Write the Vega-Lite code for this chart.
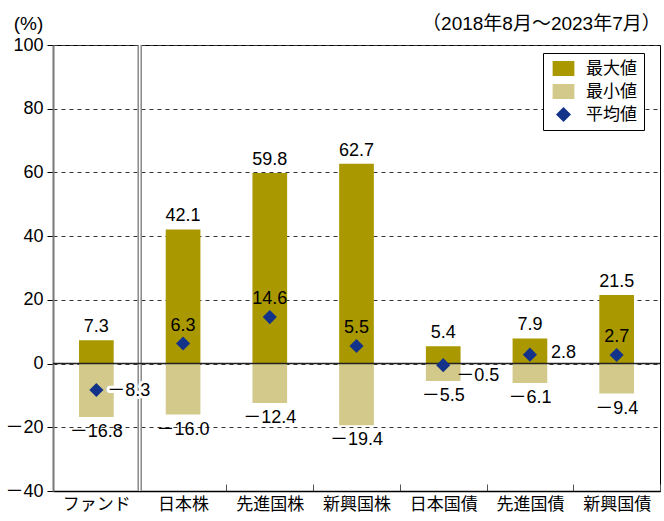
{
  "$schema": "https://vega.github.io/schema/vega-lite/v6.json",
  "width": 607,
  "height": 446,
  "autosize": "none",
  "padding": {"left": 53, "top": 45, "right": 4, "bottom": 30},
  "background": "white",
  "config": {
    "view": {"stroke": "#000", "strokeWidth": 1},
    "font": "Liberation Sans, Noto Sans CJK JP",
    "legend": {
      "orient": "none",
      "legendX": 490,
      "legendY": 8,
      "padding": 7,
      "strokeColor": "#000",
      "fillColor": "#fff",
      "labelFont": "Noto Sans CJK JP",
      "labelFontSize": 17,
      "labelColor": "#000",
      "symbolSize": 225,
      "symbolStrokeWidth": 0,
      "symbolOffset": 5,
      "labelOffset": 14,
      "rowPadding": 5
    }
  },
  "title": {
    "text": "（2018年8月～2023年7月）",
    "anchor": "end",
    "font": "Liberation Sans, Noto Sans CJK JP",
    "fontSize": 19,
    "fontWeight": "normal",
    "color": "#000",
    "offset": 11,
    "dy": 31
  },
  "data": {
    "values": [
      {"cat": "ファンド", "type": "最大値", "value": 7.3},
      {"cat": "ファンド", "type": "最小値", "value": -16.8},
      {"cat": "ファンド", "type": "平均値", "value": -8.3},
      {"cat": "日本株", "type": "最大値", "value": 42.1},
      {"cat": "日本株", "type": "最小値", "value": -16.0},
      {"cat": "日本株", "type": "平均値", "value": 6.3},
      {"cat": "先進国株", "type": "最大値", "value": 59.8},
      {"cat": "先進国株", "type": "最小値", "value": -12.4},
      {"cat": "先進国株", "type": "平均値", "value": 14.6},
      {"cat": "新興国株", "type": "最大値", "value": 62.7},
      {"cat": "新興国株", "type": "最小値", "value": -19.4},
      {"cat": "新興国株", "type": "平均値", "value": 5.5},
      {"cat": "日本国債", "type": "最大値", "value": 5.4},
      {"cat": "日本国債", "type": "最小値", "value": -5.5},
      {"cat": "日本国債", "type": "平均値", "value": -0.5},
      {"cat": "先進国債", "type": "最大値", "value": 7.9},
      {"cat": "先進国債", "type": "最小値", "value": -6.1},
      {"cat": "先進国債", "type": "平均値", "value": 2.8},
      {"cat": "新興国債", "type": "最大値", "value": 21.5},
      {"cat": "新興国債", "type": "最小値", "value": -9.4},
      {"cat": "新興国債", "type": "平均値", "value": 2.7}
    ]
  },
  "layer": [
    {
      "transform": [{"filter": "datum.type !== '平均値'"}],
      "mark": {"type": "bar", "width": {"band": 0.4}},
      "encoding": {
        "x": {
          "field": "cat",
          "type": "nominal",
          "sort": null,
          "scale": {"paddingInner": 0, "paddingOuter": 0},
          "axis": {
            "title": null,
            "labelAngle": 0,
            "labelFont": "Noto Sans CJK JP",
            "labelFontSize": 17,
            "labelColor": "#000",
            "labelPadding": 12,
            "domainColor": "#000",
            "domainWidth": 1.5,
            "ticks": true,
            "tickBand": "extent",
            "tickSize": -7,
            "tickColor": "#555",
            "grid": false
          }
        },
        "y": {
          "field": "value",
          "type": "quantitative",
          "scale": {"domain": [-40, 100], "nice": false},
          "axis": {
            "title": "(%)",
            "titleAngle": 0,
            "titleX": -25,
            "titleY": -22,
            "titleAlign": "center",
            "titleBaseline": "middle",
            "titleFont": "Liberation Sans",
            "titleFontSize": 19,
            "titleFontWeight": "normal",
            "titleColor": "#000",
            "values": [-40, -20, 0, 20, 40, 60, 80, 100],
            "labelExpr": "replace(replace(datum.label, '-', '－'), '\u2212', '－')",
            "labelFont": "Liberation Sans, Noto Sans CJK JP",
            "labelFontSize": 18,
            "labelColor": "#000",
            "labelPadding": 4,
            "domainColor": "#777",
            "domainWidth": 2,
            "tickColor": "#000",
            "tickSize": 6,
            "grid": true,
            "gridColor": "#333",
            "gridWidth": 1,
            "gridDash": [4, 4]
          }
        },
        "color": {
          "field": "type",
          "type": "nominal",
          "scale": {"domain": ["最大値", "最小値", "平均値"], "range": ["#AA9800", "#D2C98A", "#13338A"]},
          "legend": {"title": null}
        }
      }
    },
    {
      "data": {"values": [{}]},
      "mark": {"type": "rule", "color": "#888", "strokeWidth": 4.5},
      "encoding": {"x": {"datum": "ファンド", "bandPosition": 1}}
    },
    {
      "data": {"values": [{}]},
      "mark": {"type": "rule", "color": "#fff", "strokeWidth": 1.5},
      "encoding": {"x": {"datum": "ファンド", "bandPosition": 1}}
    },
    {
      "data": {"values": [{}]},
      "mark": {"type": "rule", "color": "#222", "strokeWidth": 1.5},
      "encoding": {"y": {"datum": 0}}
    },
    {
      "transform": [{"filter": "datum.type === '平均値'"}],
      "mark": {"type": "point", "filled": true, "opacity": 1, "size": 200},
      "encoding": {
        "x": {"field": "cat", "type": "nominal", "sort": null},
        "y": {"field": "value", "type": "quantitative"},
        "color": {"field": "type", "type": "nominal", "legend": {"title": null}},
        "shape": {
          "field": "type",
          "type": "nominal",
          "scale": {"domain": ["最大値", "最小値", "平均値"], "range": ["M-1.45,-1L1.45,-1L1.45,1L-1.45,1Z", "M-1.45,-1L1.45,-1L1.45,1L-1.45,1Z", "diamond"]},
          "legend": {"title": null}
        }
      }
    },
    {
      "transform": [{"filter": "datum.type === '最大値'"}],
      "mark": {"type": "text", "baseline": "bottom", "dy": -4, "fontSize": 18, "color": "#000",
        "text": {"expr": "replace(replace(format(datum.value, '.1f'), '-', '－'), '\u2212', '－')"}},
      "encoding": {"x": {"field": "cat", "type": "nominal", "sort": null}, "y": {"field": "value", "type": "quantitative"}}
    },
    {
      "transform": [{"filter": "datum.type === '最小値'"}],
      "mark": {"type": "text", "baseline": "top", "dy": 6, "fontSize": 18, "color": "#000",
        "text": {"expr": "replace(replace(format(datum.value, '.1f'), '-', '－'), '\u2212', '－')"}},
      "encoding": {"x": {"field": "cat", "type": "nominal", "sort": null}, "y": {"field": "value", "type": "quantitative"}}
    },
    {
      "transform": [{"filter": "datum.type === '平均値' && indexof(['日本株','先進国株','新興国株','新興国債'], datum.cat) >= 0"}],
      "mark": {"type": "text", "baseline": "bottom", "dy": -9, "fontSize": 18, "color": "#000",
        "text": {"expr": "format(datum.value, '.1f')"}},
      "encoding": {"x": {"field": "cat", "type": "nominal", "sort": null}, "y": {"field": "value", "type": "quantitative"}}
    },
    {
      "transform": [{"filter": "datum.type === '平均値' && datum.cat === 'ファンド'"}],
      "mark": {"type": "text", "align": "left", "baseline": "middle", "dx": 11, "dy": 1, "fontSize": 18, "color": "#fff", "stroke": "#fff", "strokeWidth": 6, "strokeJoin": "round",
        "text": {"expr": "replace(replace(format(datum.value, '.1f'), '-', '－'), '\u2212', '－')"}},
      "encoding": {"x": {"field": "cat", "type": "nominal", "sort": null}, "y": {"field": "value", "type": "quantitative"}}
    },
    {
      "transform": [{"filter": "datum.type === '平均値' && datum.cat === 'ファンド'"}],
      "mark": {"type": "text", "align": "left", "baseline": "middle", "dx": 11, "dy": 1, "fontSize": 18, "color": "#000",
        "text": {"expr": "replace(replace(format(datum.value, '.1f'), '-', '－'), '\u2212', '－')"}},
      "encoding": {"x": {"field": "cat", "type": "nominal", "sort": null}, "y": {"field": "value", "type": "quantitative"}}
    },
    {
      "transform": [{"filter": "datum.type === '平均値' && datum.cat === '日本国債'"}],
      "mark": {"type": "text", "align": "left", "baseline": "middle", "dx": 13, "dy": 11, "fontSize": 18, "color": "#000",
        "text": {"expr": "replace(replace(format(datum.value, '.1f'), '-', '－'), '\u2212', '－')"}},
      "encoding": {"x": {"field": "cat", "type": "nominal", "sort": null}, "y": {"field": "value", "type": "quantitative"}}
    },
    {
      "transform": [{"filter": "datum.type === '平均値' && datum.cat === '先進国債'"}],
      "mark": {"type": "text", "align": "left", "baseline": "middle", "dx": 21, "dy": -2, "fontSize": 18, "color": "#000",
        "text": {"expr": "format(datum.value, '.1f')"}},
      "encoding": {"x": {"field": "cat", "type": "nominal", "sort": null}, "y": {"field": "value", "type": "quantitative"}}
    }
  ]
}
